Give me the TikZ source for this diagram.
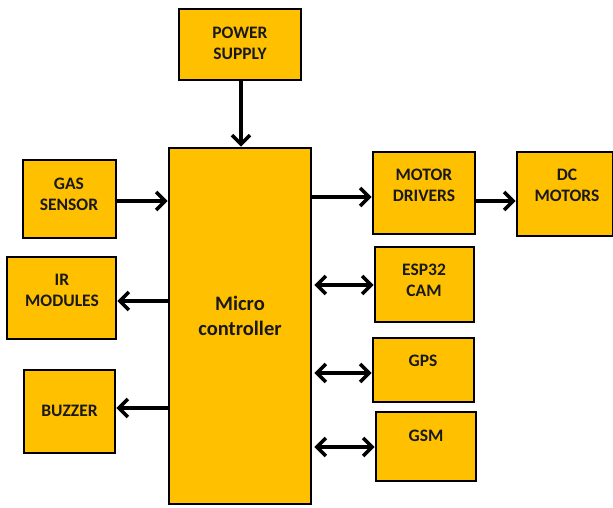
\documentclass[tikz,border=0pt]{standalone}
\usepackage{fontspec}
\setmainfont{Carlito}
\usetikzlibrary{arrows.meta}
\definecolor{boxfill}{HTML}{FFC000}
\tikzset{
  blk/.style={draw=black, line width=2.8pt, fill=boxfill, inner sep=0pt},
  txt/.style={font=\fontsize{17.5}{21}\selectfont\bfseries, align=center, text=black!90, inner sep=0pt},
  bigtxt/.style={font=\fontsize{20.5}{25}\selectfont\bfseries, align=center, text=black!90, inner sep=0pt},
  arr/.style={line width=3.6pt, -{Straight Barb[length=9pt,width=18pt]}},
  darr/.style={line width=3.6pt, {Straight Barb[length=9pt,width=18pt]}-{Straight Barb[length=9pt,width=18pt]}}
}
\begin{document}
\begin{tikzpicture}[x=1pt,y=-1pt]
\useasboundingbox (0,0) rectangle (613,508);
% boxes
\node[blk, minimum width=122pt, minimum height=71pt] (ps) at (240,44.5) {};
\node[blk, minimum width=142pt, minimum height=356pt] (mc) at (240,326) {};
\node[blk, minimum width=93pt, minimum height=78pt] (gas) at (69.5,199) {};
\node[blk, minimum width=109pt, minimum height=82pt] (ir) at (61.5,298) {};
\node[blk, minimum width=91pt, minimum height=83pt] (buz) at (69.5,411.5) {};
\node[blk, minimum width=102pt, minimum height=82pt] (md) at (424,193) {};
\node[blk, minimum width=96pt, minimum height=84pt] (dc) at (565,194) {};
\node[blk, minimum width=99pt, minimum height=75pt] (esp) at (424.5,284.5) {};
\node[blk, minimum width=101pt, minimum height=64pt] (gps) at (423.5,370) {};
\node[blk, minimum width=100pt, minimum height=69pt] (gsm) at (426,446.5) {};
% texts
\node[txt] (tps) at (240,43) {POWER\\SUPPLY};
\node[bigtxt] (tmc) at (240,316) {Micro\\controller};
\node[txt] (tgas) at (69,194) {GAS\\SENSOR};
\node[txt] (tir) at (62,290.5) {IR\\MODULES};
\node[txt] (tbuz) at (69.5,411) {BUZZER};
\node[txt] (tmd) at (424,185.5) {MOTOR\\DRIVERS};
\node[txt] (tdc) at (567,185.5) {DC\\MOTORS};
\node[txt] (tesp) at (424,280.5) {ESP32\\CAM};
\node[txt] (tgps) at (423,360.5) {GPS};
\node[txt] (tgsm) at (426,435.5) {GSM};
% connectors
\draw[arr] (ps.south -| 241,0) -- (mc.north -| 241,0);
\draw[arr] (gas.east |- 0,201) -- (mc.west |- 0,201);
\draw[arr] (mc.east |- 0,197) -- (md.west |- 0,197);
\draw[arr] (md.east |- 0,201) -- (dc.west |- 0,201);
\draw[arr] (mc.west |- 0,301) -- (ir.east |- 0,301);
\draw[arr] (mc.west |- 0,408) -- (buz.east |- 0,408);
\draw[darr] ([xshift=2pt]mc.east |- 0,285) -- (esp.west |- 0,285);
\draw[darr] ([xshift=2pt]mc.east |- 0,373) -- (gps.west |- 0,373);
\draw[darr] ([xshift=2pt]mc.east |- 0,447) -- (gsm.west |- 0,447);
\end{tikzpicture}
\end{document}
